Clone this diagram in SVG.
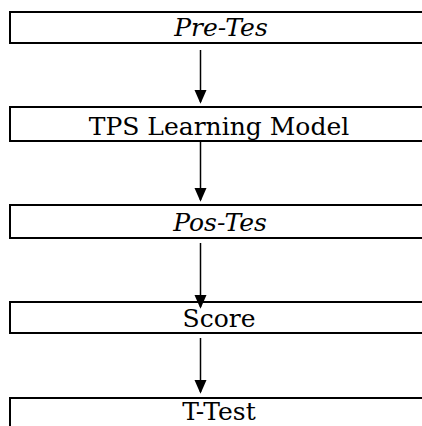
<svg xmlns="http://www.w3.org/2000/svg" width="422" height="426" viewBox="0 0 422 426">
<style>
.box{fill:#fff;stroke:#000;stroke-width:2}
.t{font-family:"DejaVu Serif",serif;font-size:25px;fill:#000;text-anchor:middle}
.i{font-style:italic}
.c{stroke:#000;stroke-width:1.5;fill:none}
</style>
<defs>
<marker id="ah" markerUnits="userSpaceOnUse" markerWidth="14" markerHeight="16" refX="14" refY="7" orient="auto" viewBox="0 0 16 14">
<path d="M0,0 L16,7 L0,14 Z" fill="#000"/>
</marker>
</defs>
<rect width="422" height="426" fill="#fff"/>
<g id="n1"><rect class="box" x="10" y="12" width="420" height="31"/><text class="t i" x="221" y="36">Pre-Tes</text></g>
<g id="n2"><rect class="box" x="10" y="107" width="420" height="34"/><text class="t" x="219" y="135">TPS Learning Model</text></g>
<g id="n3"><rect class="box" x="10" y="205" width="420" height="33"/><text class="t i" x="220" y="231">Pos-Tes</text></g>
<g id="n4"><rect class="box" x="10" y="302" width="420" height="31"/><text class="t" x="219" y="327">Score</text></g>
<g id="n5"><rect class="box" x="10" y="398" width="420" height="40"/><text class="t" x="219" y="420">T-Test</text></g>
<g id="connectors">
<line class="c" x1="200.5" y1="50" x2="200.5" y2="102" marker-end="url(#ah)"/>
<line class="c" x1="200.5" y1="142" x2="200.5" y2="200" marker-end="url(#ah)"/>
<line class="c" x1="200.5" y1="243" x2="200.5" y2="307" marker-end="url(#ah)"/>
<line class="c" x1="200.5" y1="338" x2="200.5" y2="392" marker-end="url(#ah)"/>
</g>
</svg>
